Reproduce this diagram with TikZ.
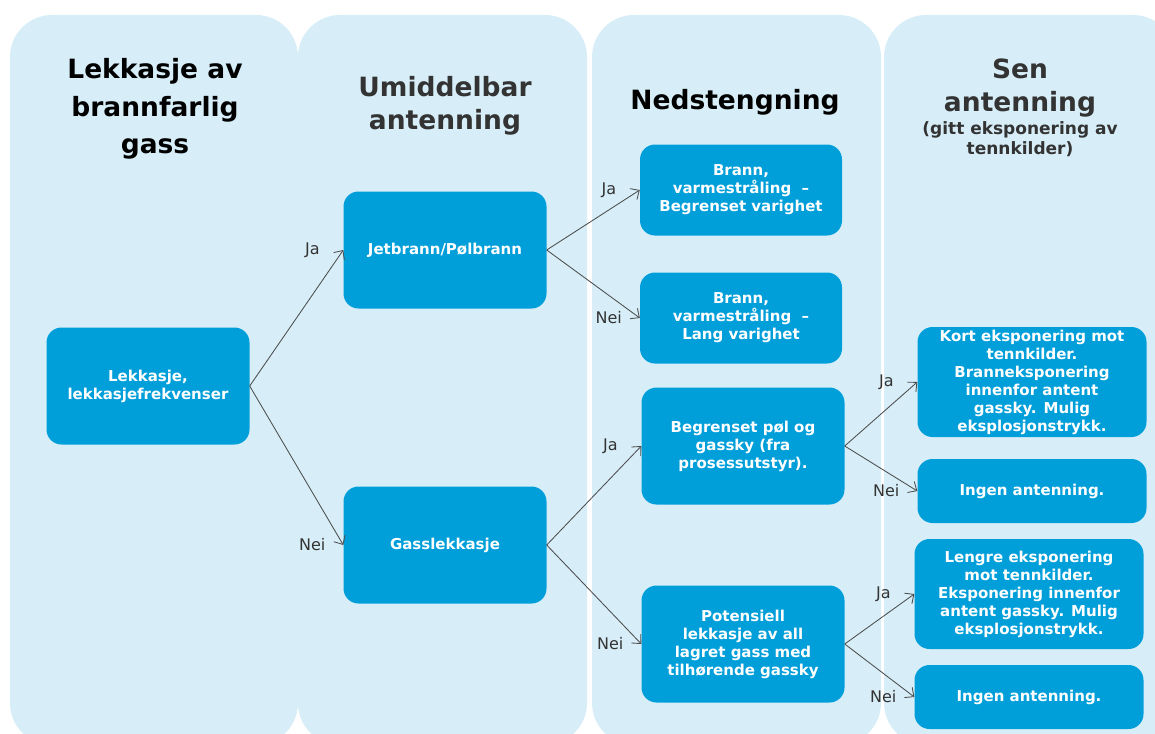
\documentclass[tikz,border=0pt]{standalone}
\usepackage{fontspec}
\setmainfont{DejaVu Sans}
\usepackage{tikz}
\usetikzlibrary{arrows.meta, positioning}
\definecolor{lkLane}{HTML}{D7EEF8}
\definecolor{lkBox}{HTML}{009FDA}
\definecolor{lkLine}{HTML}{4D4D4D}
\definecolor{lkGrey}{HTML}{333333}

\begin{document}
\begin{tikzpicture}[
  x=1pt, y=-1pt,
  lane/.style={fill=lkLane, rounded corners=42pt},
  head/.style={font=\fontsize{26.5}{33}\selectfont\bfseries, align=center, inner sep=0pt},
  sub/.style={font=\fontsize{17}{20}\selectfont\bfseries, align=center, inner sep=0pt, text=lkGrey},
  box/.style={fill=lkBox, rounded corners=15pt, text=white, align=center,
              font=\fontsize{15}{18}\selectfont\bfseries, inner sep=0pt},
  big/.style={box, minimum width=203pt, minimum height=117pt},
  mid/.style={box, minimum width=202pt, minimum height=91pt},
  end/.style={box, minimum width=229pt, minimum height=110pt},
  low/.style={box, minimum width=229pt, minimum height=64pt},
  arr/.style={draw=lkLine, line width=0.85pt, -{Straight Barb[length=7pt, width=13pt]}},
  lbl/.style={font=\fontsize{16}{18}\selectfont, text=lkGrey, pos=1, xshift=-31pt},
]
  \useasboundingbox (0,0) rectangle (1155,733);
  \clip (0,0) rectangle (1155,733);
  \fill[lane] (10,15) rectangle (298,745);
  \fill[lane] (298,15) rectangle (587,745);
  \fill[lane] (592,15) rectangle (881,745);
  \fill[lane] (884,15) rectangle (1175,745);

  \node[head, font=\fontsize{26.5}{37.5}\selectfont\bfseries] (hLek) at (155,109) {Lekkasje av\\brannfarlig\\gass};
  \node[head, text=lkGrey] (hUmi) at (445,106) {Umiddelbar\\antenning};
  \node[head] (hNed) at (735,102) {Nedstengning};
  \node[head, text=lkGrey] (hSen) at (1020,88) {Sen\\antenning};
  \node[sub, below=4pt of hSen] (hGitt) {(gitt eksponering av\\tennkilder)};

  \node[big] (lek) at (148,386) {Lekkasje,\\lekkasjefrekvenser};
  \node[big] (jet) at (445,250) {Jetbrann/Pølbrann};
  \node[big] (gass) at (445,545) {Gasslekkasje};
  \node[mid] (brBeg) at (741,190) {Brann,\\varmestråling~~–\\Begrenset varighet};
  \node[mid] (brLang) at (741,318) {Brann,\\varmestråling~~–\\Lang varighet};
  \node[big] (pol) at (743,446) {Begrenset pøl og\\gassky (fra\\prosessutstyr).};
  \node[big] (pot) at (743,644) {Potensiell\\lekkasje av all\\lagret gass med\\tilhørende gassky};
  \node[end] (kort) at (1032,382) {Kort eksponering mot\\tennkilder.\\Branneksponering\\innenfor antent\\gassky. Mulig\\eksplosjonstrykk.};
  \node[low] (ingenA) at (1032,491) {Ingen antenning.};
  \node[end] (lengre) at (1029,594) {Lengre eksponering\\mot tennkilder.\\Eksponering innenfor\\antent gassky. Mulig\\eksplosjonstrykk.};
  \node[low] (ingenB) at (1029,697) {Ingen antenning.};

  \draw[arr] (lek.east) -- (jet.west) node[lbl] {Ja};
  \draw[arr] (lek.east) -- (gass.west) node[lbl] {Nei};
  \draw[arr] (jet.east) -- (brBeg.west) node[lbl] {Ja};
  \draw[arr] (jet.east) -- (brLang.west) node[lbl] {Nei};
  \draw[arr] (gass.east) -- (pol.west) node[lbl] {Ja};
  \draw[arr] (gass.east) -- (pot.west) node[lbl] {Nei};
  \draw[arr] (pol.east) -- (kort.west) node[lbl] {Ja};
  \draw[arr] (pol.east) -- (ingenA.west) node[lbl] {Nei};
  \draw[arr] (pot.east) -- (lengre.west) node[lbl] {Ja};
  \draw[arr] (pot.east) -- (ingenB.west) node[lbl] {Nei};
\end{tikzpicture}
\end{document}
